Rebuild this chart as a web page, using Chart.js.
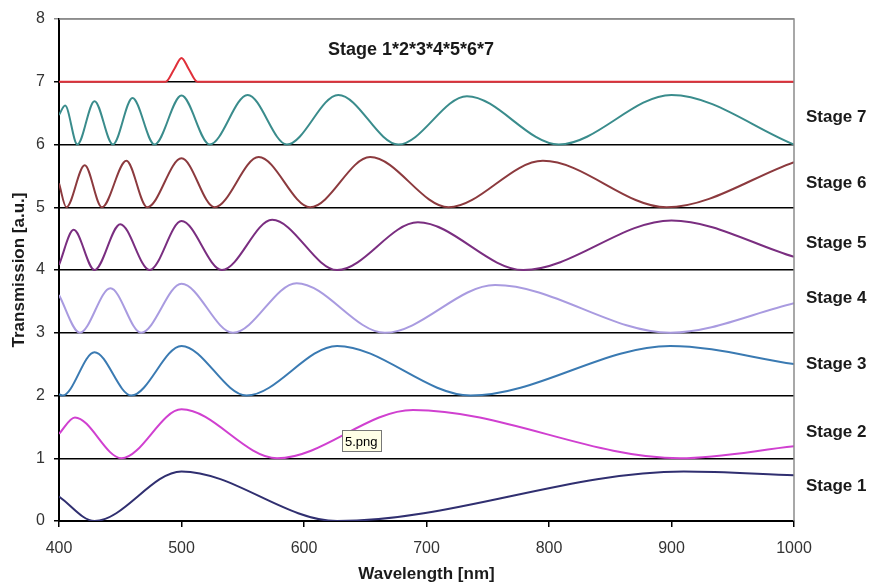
<!DOCTYPE html>
<html>
<head>
<meta charset="utf-8">
<script src="https://cdn.jsdelivr.net/npm/chart.js@4.4.1/dist/chart.umd.min.js"></script>
<style>
  body { margin: 0; background: #fff; }
  canvas { display: block; }
</style>
</head>
<body>
<canvas id="lyotChart" width="874" height="585"></canvas>
<script>
// Transmission of each Lyot stage, peaks/troughs (nm, a.u. + offset)
const stage1Wl = [400, 429, 500, 627, 910, 1000];
const stage1T = [0.39, 0.0, 0.79, 0.0, 0.79, 0.73];

const stage2Wl = [400, 413, 451, 500, 578, 689, 907, 1000];
const stage2T = [1.39, 1.65, 1.0, 1.78, 1.0, 1.77, 1.0, 1.19];

const stage3Wl = [400, 403, 429, 459, 500, 553, 627, 736, 899, 1000];
const stage3T = [2.02, 2.0, 2.69, 2.0, 2.79, 2.0, 2.79, 2.0, 2.79, 2.5];

const stage4Wl = [400, 417, 442, 467, 500, 542, 594, 666, 756, 899, 1000];
const stage4T = [3.6, 3.0, 3.71, 3.0, 3.78, 3.0, 3.79, 3.0, 3.76, 3.0, 3.47];

const stage5Wl = [400, 412, 429, 450, 474, 500, 533, 574, 627, 693, 779, 900, 1000];
const stage5T = [4.08, 4.64, 4.0, 4.73, 4.0, 4.78, 4.0, 4.8, 4.0, 4.76, 4.0, 4.79, 4.21];

const stage6Wl = [400, 406, 421, 435, 455, 472, 500, 527, 563, 605, 654, 718, 795, 896, 1000];
const stage6T = [5.38, 5.0, 5.67, 5.0, 5.74, 5.0, 5.78, 5.0, 5.8, 5.0, 5.8, 5.0, 5.74, 5.0, 5.72];

const stage7Wl = [400, 405, 415, 429, 444, 460, 478, 500, 523, 554, 586, 628, 677, 733, 808, 900, 1000];
const stage7T = [6.47, 6.62, 6.0, 6.69, 6.0, 6.74, 6.0, 6.78, 6.0, 6.79, 6.0, 6.79, 6.0, 6.77, 6.0, 6.79, 6.0];

// product of all stages (offset 7)
const productWl = [400, 487, 494, 500, 506, 513, 1000];
const productT = [7.0, 7.0, 7.2, 7.38, 7.2, 7.0, 7.0];

const stageNames = ["Stage 7", "Stage 6", "Stage 5", "Stage 4", "Stage 3", "Stage 2", "Stage 1"];
const productName = "Stage 1*2*3*4*5*6*7";
const xTicks = [400, 500, 600, 700, 800, 900, 1000];

const FONT = "'Liberation Sans', Arial, sans-serif";

const toPoints = (wl, t) => wl.map((x, i) => ({ x: x, y: t[i] }));

const makeSet = (label, wl, t, color) => ({
  label: label,
  data: toPoints(wl, t),
  borderColor: color,
  backgroundColor: color,
  borderWidth: 2,
  showLine: true,
  pointRadius: 0,
  cubicInterpolationMode: "monotone",
});

// text beside the plot: stage names, product title, stray tooltip box
const labelPlugin = {
  id: "stageLabels",
  afterDraw(chart) {
    const ctx = chart.ctx;
    const area = chart.chartArea;
    ctx.save();

    // grey frame on top and right
    ctx.strokeStyle = "#8c8c8c";
    ctx.lineWidth = 1.5;
    ctx.beginPath();
    ctx.moveTo(area.left, area.top);
    ctx.lineTo(area.right, area.top);
    ctx.lineTo(area.right, area.bottom);
    ctx.stroke();

    ctx.fillStyle = "#1a1a1a";
    ctx.font = "bold 17px " + FONT;
    ctx.textAlign = "left";
    ctx.textBaseline = "alphabetic";
    const baselines = [122, 188, 248, 303, 369, 437, 491];
    stageNames.forEach((name, i) => {
      ctx.fillText(name, area.right + 12, baselines[i]);
    });

    ctx.font = "bold 18px " + FONT;
    ctx.textAlign = "center";
    ctx.fillText(productName, 411, 55);

    // "5.png" tooltip that sits in the original screenshot
    ctx.fillStyle = "#ffffe6";
    ctx.fillRect(342.5, 430.5, 39, 21);
    ctx.strokeStyle = "#777";
    ctx.lineWidth = 1;
    ctx.strokeRect(342.5, 430.5, 39, 21);
    ctx.fillStyle = "#000";
    ctx.font = "13px " + FONT;
    ctx.textAlign = "left";
    ctx.fillText("5.png", 345, 446);

    ctx.restore();
  },
};

const ctx = document.getElementById("lyotChart").getContext("2d");

new Chart(ctx, {
  type: "scatter",
  data: {
    datasets: [
      makeSet(productName, productWl, productT, "#e0303a"),
      makeSet("Stage 7", stage7Wl, stage7T, "#3a8c8c"),
      makeSet("Stage 6", stage6Wl, stage6T, "#8c3a3e"),
      makeSet("Stage 5", stage5Wl, stage5T, "#7a2e80"),
      makeSet("Stage 4", stage4Wl, stage4T, "#a99be0"),
      makeSet("Stage 3", stage3Wl, stage3T, "#3a7ab2"),
      makeSet("Stage 2", stage2Wl, stage2T, "#d040d0"),
      makeSet("Stage 1", stage1Wl, stage1T, "#302f70"),
    ],
  },
  options: {
    responsive: false,
    animation: false,
    layout: {
      padding: { top: 19, right: 80, left: 0, bottom: 0 },
    },
    plugins: {
      legend: { display: false },
      tooltip: { enabled: false },
    },
    scales: {
      x: {
        type: "linear",
        min: 400,
        max: 1000,
        afterBuildTicks: (scale) => {
          scale.ticks = xTicks.map((v) => ({ value: v }));
        },
        afterFit: (scale) => {
          scale.height = 64;
        },
        grid: {
          drawOnChartArea: false,
          color: "#000",
          tickLength: 6,
          lineWidth: 1.5,
        },
        border: { color: "#000", width: 2 },
        ticks: {
          color: "#333",
          font: { family: FONT, size: 16 },
          padding: 12,
          maxRotation: 0,
          callback: (value) => String(value),
        },
        title: {
          display: true,
          text: "Wavelength [nm]",
          color: "#1a1a1a",
          font: { family: FONT, size: 17, weight: "bold" },
          padding: { top: 0, bottom: 0 },
        },
      },
      y: {
        min: 0,
        max: 8,
        afterFit: (scale) => {
          scale.width = 59;
        },
        grid: {
          color: (c) => (c.tick && c.tick.value === 8 ? "#8c8c8c" : "#000"),
          lineWidth: 1.5,
          tickLength: 5,
        },
        border: { color: "#000", width: 2 },
        ticks: {
          stepSize: 1,
          color: "#333",
          font: { family: FONT, size: 16 },
          padding: 9,
        },
        title: {
          display: true,
          text: "Transmission [a.u.]",
          color: "#1a1a1a",
          font: { family: FONT, size: 17, weight: "bold" },
          padding: { top: 9, bottom: 0 },
        },
      },
    },
  },
  plugins: [labelPlugin],
});
</script>
</body>
</html>
